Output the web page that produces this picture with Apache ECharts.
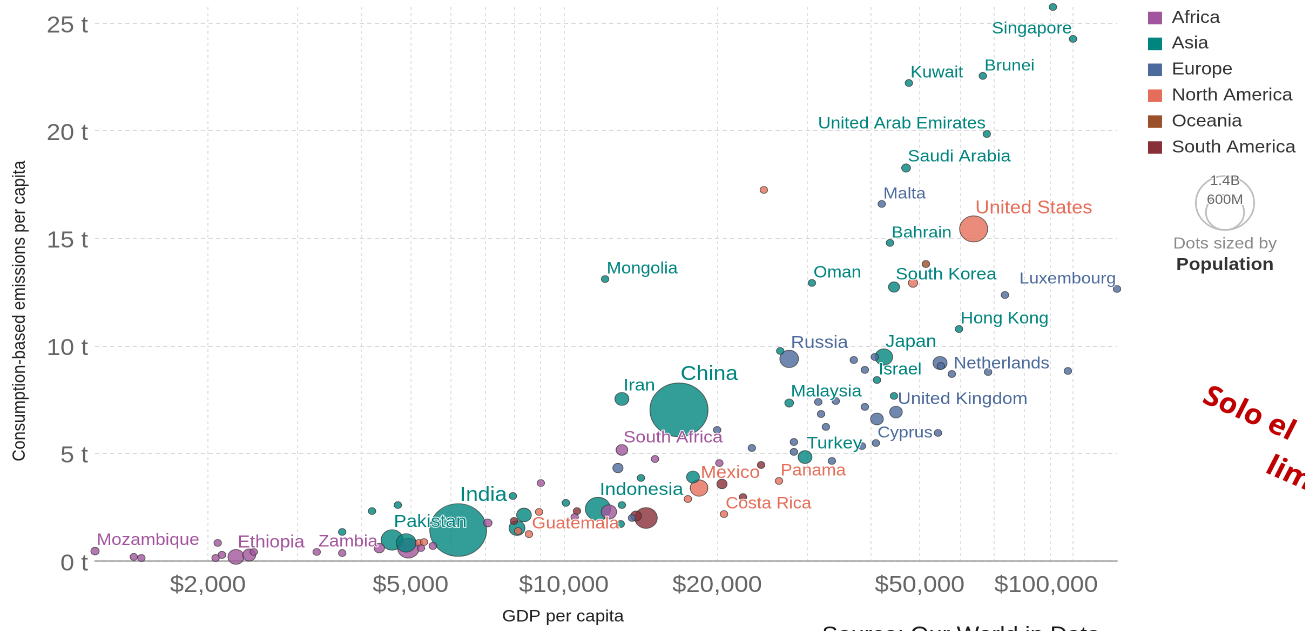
<!DOCTYPE html>
<html>
<head>
<meta charset="utf-8">
<script src="https://cdn.jsdelivr.net/npm/echarts@6/dist/echarts.min.js"></script>
<style>
  html, body { margin: 0; padding: 0; background: #fff; width: 1305px; height: 631px; overflow: hidden; }
  #chart { height: 631px; transform-origin: 0 0; }
</style>
</head>
<body>
<div id="chart"></div>
<script>
// ---- data: [GDP per capita ($), consumption-based CO2 per capita (t), population, label] ----
const continents = ['Africa', 'Asia', 'Europe', 'North America', 'Oceania', 'South America'];
const continentColors = ['#A2559C', '#00847E', '#4C6A9C', '#E56E5A', '#9A5129', '#883039'];

const africa = [
  [1200, 0.46, 29e6, 'Mozambique'],
  [1430, 0.19, 18e6, ''],
  [1480, 0.14, 12e6, ''],
  [2070, 0.14, 11e6, ''],
  [2130, 0.28, 25e6, ''],
  [2090, 0.84, 5e6, ''],
  [2270, 0.19, 105e6, 'Ethiopia'],
  [2410, 0.28, 70e6, ''],
  [2460, 0.42, 10e6, ''],
  [3270, 0.42, 17e6, 'Zambia'],
  [3670, 0.37, 20e6, ''],
  [4340, 0.60, 45e6, ''],
  [4950, 0.60, 190e6, ''],
  [5240, 0.60, 8e6, ''],
  [5530, 0.70, 25e6, ''],
  [7090, 1.77, 30e6, ''],
  [9010, 3.62, 5e6, ''],
  [10500, 2.04, 5e6, ''],
  [12260, 2.28, 97e6, ''],
  [13000, 5.16, 56e6, 'South Africa'],
  [15100, 4.74, 5e6, ''],
  [20200, 4.55, 2e6, '']
];

const asia = [
  [91300, 25.74, 2.6e6, ''],
  [100000, 24.26, 5.6e6, 'Singapore'],
  [47600, 22.21, 4.1e6, 'Kuwait'],
  [66500, 22.54, 0.4e6, 'Brunei'],
  [67700, 19.84, 9.4e6, 'United Arab Emirates'],
  [47000, 18.26, 33e6, 'Saudi Arabia'],
  [43700, 14.78, 1.5e6, 'Bahrain'],
  [12050, 13.10, 3.1e6, 'Mongolia'],
  [30700, 12.92, 4.6e6, 'Oman'],
  [44500, 12.73, 51e6, 'South Korea'],
  [59700, 10.78, 7.4e6, 'Hong Kong'],
  [26600, 9.76, 18e6, ''],
  [42500, 9.48, 127e6, 'Japan'],
  [41200, 8.41, 8.7e6, 'Israel'],
  [44500, 7.67, 3e6, ''],
  [27700, 7.34, 32e6, 'Malaysia'],
  [13000, 7.53, 81e6, 'Iran'],
  [16830, 7.02, 1390e6, 'China'],
  [29760, 4.83, 80e6, 'Turkey'],
  [17930, 3.90, 69e6, ''],
  [14170, 3.86, 4e6, ''],
  [11670, 2.42, 262e6, 'Indonesia'],
  [13000, 2.60, 4e6, ''],
  [12930, 1.72, 4e6, ''],
  [10090, 2.70, 6e6, ''],
  [8350, 2.14, 90e6, ''],
  [8090, 1.53, 105e6, ''],
  [7940, 3.02, 3e6, ''],
  [6200, 1.44, 1330e6, 'India'],
  [4600, 0.98, 200e6, 'Pakistan'],
  [4900, 0.84, 163e6, ''],
  [4200, 2.32, 6e6, ''],
  [4720, 2.60, 3e6, ''],
  [3670, 1.35, 8e6, '']
];

const europe = [
  [42100, 16.59, 0.4e6, 'Malta'],
  [73500, 12.36, 8.5e6, ''],
  [122000, 12.64, 0.6e6, 'Luxembourg'],
  [27700, 9.39, 144e6, 'Russia'],
  [37100, 9.34, 5e6, ''],
  [40800, 9.48, 5e6, ''],
  [39000, 8.88, 10e6, ''],
  [54800, 9.20, 82e6, ''],
  [55000, 9.06, 17e6, 'Netherlands'],
  [57800, 8.69, 9e6, ''],
  [68100, 8.78, 5e6, ''],
  [97700, 8.83, 5e6, ''],
  [31600, 7.39, 10e6, ''],
  [34200, 7.43, 10e6, ''],
  [32000, 6.83, 5e6, ''],
  [39000, 7.16, 5e6, ''],
  [41200, 6.60, 67e6, ''],
  [44900, 6.92, 66e6, 'United Kingdom'],
  [32700, 6.23, 5e6, ''],
  [28300, 5.53, 5e6, ''],
  [28300, 5.07, 5e6, ''],
  [33600, 4.65, 10e6, ''],
  [38500, 5.34, 5e6, ''],
  [41000, 5.48, 1.2e6, 'Cyprus'],
  [54300, 5.95, 5e6, ''],
  [20000, 6.09, 5e6, ''],
  [23400, 5.25, 5e6, ''],
  [12770, 4.32, 44e6, ''],
  [13610, 2.00, 3e6, '']
];

const northAmerica = [
  [63800, 15.43, 325e6, 'United States'],
  [24700, 17.24, 1.4e6, ''],
  [48500, 12.92, 37e6, ''],
  [18430, 3.39, 128e6, 'Mexico'],
  [26450, 3.72, 4e6, 'Panama'],
  [17520, 2.88, 10e6, ''],
  [20630, 2.18, 5e6, 'Costa Rica'],
  [8130, 1.39, 17e6, 'Guatemala'],
  [8540, 1.25, 9e6, ''],
  [8940, 2.28, 5e6, ''],
  [5195, 0.84, 9e6, ''],
  [5313, 0.88, 6e6, '']
];

const oceania = [
  [51400, 13.80, 24e6, '']
];

const southAmerica = [
  [24400, 4.46, 18e6, ''],
  [20440, 3.58, 44e6, ''],
  [22480, 2.97, 3.5e6, ''],
  [14500, 2.00, 208e6, ''],
  [13860, 2.09, 49e6, ''],
  [10610, 2.32, 11e6, ''],
  [7980, 1.86, 7e6, '']
];

const groups = [africa, asia, europe, northAmerica, oceania, southAmerica];

// axis ticks and grid lines
const xTickLabels = [2000, 5000, 10000, 20000, 50000, 100000];
const xGridValues = [2000, 3000, 4000, 5000, 6000, 7000, 8000, 9000,
                     10000, 20000, 30000, 40000, 50000, 60000, 70000, 80000, 90000, 100000];
const yTickValues = [0, 5, 10, 15, 20, 25];

// bubble-size key
const sizeKeyValues = [1.4e9, 6e8];
const sizeKeyLabels = ['1.4B', '600M'];

// ---- layout / styling ----
const SX = 1.08;                 // horizontal stretch of the whole figure
const W = 1305 / SX;
const FONT = '"Liberation Sans", Arial, Helvetica, sans-serif';
const px = x => x / SX;          // page x -> chart x

const chartEl = document.getElementById('chart');
chartEl.style.width = W + 'px';
chartEl.style.transform = 'scaleX(' + SX + ')';

const POP_MAX = 1.4e9, R_MAX = 27, R_MIN = 3.5;
const radius = p => Math.max(R_MIN, R_MAX * Math.sqrt(p / POP_MAX));
const labelSize = p => 16 + 4.3 * Math.sqrt(Math.min(p, POP_MAX) / POP_MAX);

// labels that sit somewhere other than above-right of their dot
const labelPlacement = {
  'Singapore': { align: 'right', offset: [-1, 0] },
  'United Arab Emirates': { align: 'right', offset: [-1, 0] },
  'Luxembourg': { align: 'right', offset: [-1, 0] },
  'Netherlands': { position: 'right', distance: 8, align: 'left', verticalAlign: 'middle', offset: [0, -2] },
  'Guatemala': { position: 'right', distance: 9, align: 'left', verticalAlign: 'middle', offset: [0, -7] }
};

// one list of dots, largest first so small dots stay visible on top
const points = [];
groups.forEach((g, ci) => g.forEach(d => points.push({ gdp: d[0], co2: d[1], pop: d[2], label: d[3], ci })));
points.sort((a, b) => b.pop - a.pop);

const dotData = points.map(p => {
  const item = {
    name: p.label || continents[p.ci],
    value: [p.gdp, p.co2, p.pop],
    symbolSize: 2 * radius(p.pop),
    itemStyle: {
      color: continentColors[p.ci],
      opacity: 0.8,
      borderColor: '#333',
      borderWidth: 0.7
    }
  };
  if (p.label) {
    item.label = Object.assign({
      show: true,
      formatter: p.label,
      color: continentColors[p.ci],
      opacity: 1,
      fontSize: labelSize(p.pop)
    }, labelPlacement[p.label] || {});
  }
  return item;
});

const allGdp = points.map(p => p.gdp);
const allCo2 = points.map(p => p.co2);
const xMin = Math.min.apply(null, allGdp);
const xMax = Math.max.apply(null, allGdp);
const yMax = Math.max.apply(null, allCo2);

// empty series, one per continent, that feed the legend
const legendSeries = continents.map((c, i) => ({
  type: 'scatter', name: c, data: [], itemStyle: { color: continentColors[i], opacity: 1 }
}));

// bubble-size key drawn as circles sharing a baseline
const KEY_CX = px(1225), KEY_BASE = 230;
const keyGraphics = [];
sizeKeyValues.forEach((v, i) => {
  const r = radius(v);
  keyGraphics.push({
    type: 'circle', silent: true,
    shape: { cx: KEY_CX, cy: KEY_BASE - r, r: r },
    style: { fill: 'none', stroke: '#bdbdbd', lineWidth: 1.5 }
  });
});
sizeKeyValues.forEach((v, i) => {
  const r = radius(v);
  keyGraphics.push({
    type: 'text', silent: true, z: 10,
    x: KEY_CX, y: KEY_BASE - 2 * r + 5.5,
    style: {
      text: sizeKeyLabels[i], fontSize: 13.5, fontFamily: FONT, fill: '#666',
      align: 'center', verticalAlign: 'middle', stroke: '#fff', lineWidth: 2
    }
  });
});

const option = {
  backgroundColor: '#fff',
  animation: false,
  textStyle: { fontFamily: FONT },
  grid: { left: px(95), right: px(1305 - 1117), top: 7, bottom: 70, containLabel: false },
  legend: {
    orient: 'vertical',
    left: px(1148), top: 9, padding: 0,
    icon: 'rect', itemWidth: 13, itemHeight: 12.5, itemGap: 7.9,
    data: continents,
    selectedMode: false,
    itemStyle: { opacity: 1 },
    textStyle: { fontSize: 17.5, color: '#333', fontFamily: FONT, padding: [0, 0, 0, 4] }
  },
  xAxis: {
    type: 'log', logBase: 10, min: xMin, max: xMax,
    axisLine: { show: true, lineStyle: { color: '#a3a3a3', width: 1.5 } },
    axisTick: { show: false, customValues: xGridValues },
    minorTick: { show: false },
    splitLine: { show: true, customValues: xGridValues, lineStyle: { type: [3, 3], color: '#e0e0e0', width: 1 } },
    axisLabel: {
      customValues: xTickLabels,
      fontSize: 23, color: '#666', margin: 13, fontFamily: FONT,
      formatter: v => {
        const s = '$' + Number(v).toLocaleString('en-US');
        return v >= 100000 ? '{edge|' + s + '}' : s;
      },
      rich: { edge: { fontSize: 23, color: '#666', fontFamily: FONT, padding: [0, 50, 0, 0] } }
    }
  },
  yAxis: {
    type: 'value', min: 0, max: yMax,
    axisLine: { show: false },
    axisTick: { show: false, customValues: yTickValues },
    splitLine: { show: true, customValues: yTickValues, lineStyle: { type: [4, 3], color: '#d9d9d9', width: 1 } },
    axisLabel: {
      customValues: yTickValues,
      formatter: '{v|{value} t}', fontSize: 23, color: '#666', margin: 6.5, fontFamily: FONT,
      rich: { v: { fontSize: 23, color: '#666', fontFamily: FONT, padding: [6, 0, 0, 0] } }
    }
  },
  series: legendSeries.concat([{
    type: 'scatter',
    name: 'Countries',
    clip: false,
    data: dotData,
    label: {
      show: false,
      position: 'top', distance: -2, align: 'left', offset: [1.5, 0],
      fontFamily: FONT, opacity: 1,
      textBorderColor: '#fff', textBorderWidth: 1.5
    },
    emphasis: { scale: 1.15 }
  }]),
  graphic: [
    {
      type: 'text', silent: true, x: px(20), y: 311, rotation: Math.PI / 2,
      style: { text: 'Consumption-based emissions per capita', fontSize: 16.4, fontFamily: FONT,
               fill: '#222', align: 'center', verticalAlign: 'middle' }
    },
    {
      type: 'text', silent: true, x: px(563), y: 617,
      style: { text: 'GDP per capita', fontSize: 16.5, fontFamily: FONT,
               fill: '#222', align: 'center', verticalAlign: 'middle' }
    },
    {
      type: 'text', silent: true, x: px(822), y: 636,
      style: { text: 'Source: Our World in Data', fontSize: 22, fontFamily: FONT,
               fill: '#1a1a1a', align: 'left', verticalAlign: 'middle' }
    },
    {
      type: 'text', silent: true, x: px(1211), y: 382, rotation: -0.44,
      style: { text: 'Solo el', fontSize: 28, fontWeight: 'bold', fontFamily: '"Open Sans", sans-serif',
               fill: '#C00000', align: 'left', verticalAlign: 'top' }
    },
    {
      type: 'text', silent: true, x: px(1274), y: 452, rotation: -0.44,
      style: { text: 'lim', fontSize: 28, fontWeight: 'bold', fontFamily: '"Open Sans", sans-serif',
               fill: '#C00000', align: 'left', verticalAlign: 'top' }
    },
    {
      type: 'text', silent: true, x: KEY_CX, y: 244,
      style: { text: 'Dots sized by', fontSize: 16, fontFamily: FONT, fill: '#8a8a8a',
               align: 'center', verticalAlign: 'middle' }
    },
    {
      type: 'text', silent: true, x: KEY_CX, y: 265,
      style: { text: 'Population', fontSize: 17.5, fontWeight: 'bold', fontFamily: FONT, fill: '#333',
               align: 'center', verticalAlign: 'middle' }
    }
  ].concat(keyGraphics)
};

// render at double resolution so the horizontal stretch stays crisp
const chart = echarts.init(chartEl, null, { renderer: 'canvas', width: W, height: 631, devicePixelRatio: 2 });
chart.setOption(option);
</script>
</body>
</html>
